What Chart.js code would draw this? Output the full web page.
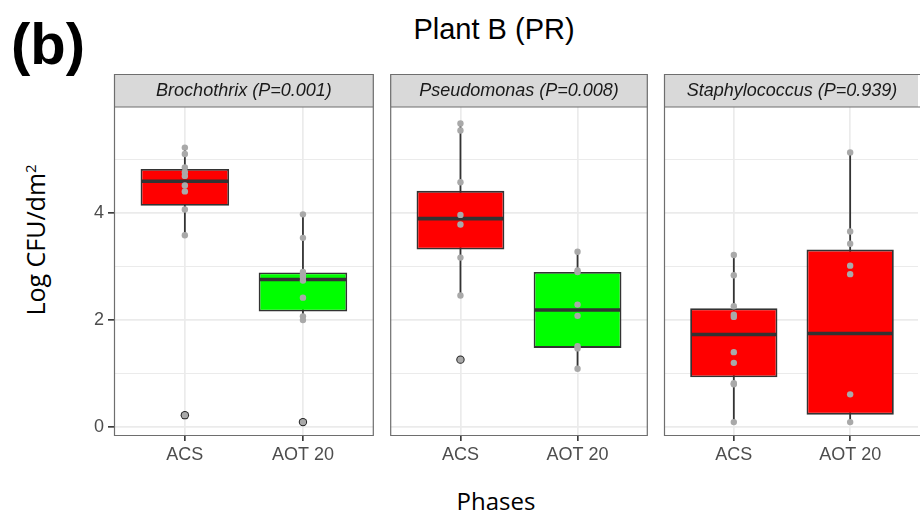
<!DOCTYPE html>
<html>
<head>
<meta charset="utf-8">
<script src="https://cdn.jsdelivr.net/npm/chart.js@4.4.0/dist/chart.umd.min.js"></script>
<style>
  body { margin: 0; width: 922px; height: 512px; background: #fff; position: relative; overflow: hidden;
         font-family: "Liberation Sans", Arial, sans-serif; }
  .panel { position: absolute; top: 70px; height: 400px; }
  #tag { position: absolute; left: 11px; top: 15px; font: bold 58px/58px "Liberation Sans", Arial, sans-serif; color: #000; }
  #title { position: absolute; left: 494px; top: 15px; transform: translateX(-50%); font: 29px/29px "Liberation Sans", Arial, sans-serif; color: #000; white-space: nowrap; }
  #ytitle { position: absolute; left: 35px; top: 240px; transform: translate(-50%, -50%) rotate(-90deg);
            font: 25px/25px "Open Sans", sans-serif; color: #000; white-space: nowrap; }
  #ytitle sup { font-size: 60%; vertical-align: 0.6em; line-height: 0; }
  #xtitle { position: absolute; left: 496px; top: 489px; transform: translateX(-50%); font: 24px/24px "Open Sans", sans-serif; color: #000; white-space: nowrap; }
</style>
</head>
<body>
<div id="tag">(b)</div>
<div id="title">Plant B (PR)</div>
<div id="ytitle">Log CFU/dm<sup>2</sup></div>
<div id="xtitle">Phases</div>
<div class="panel" style="left:60px;width:318px"><canvas id="p0"></canvas></div>
<div class="panel" style="left:386px;width:266px"><canvas id="p1"></canvas></div>
<div class="panel" style="left:660px;width:262px"><canvas id="p2"></canvas></div>
<script>
const phases = ['ACS', 'AOT 20'];
const taxa = ['Brochothrix (P=0.001)', 'Pseudomonas (P=0.008)', 'Staphylococcus (P=0.939)'];
const yTicks = [0, 2, 4];
const yMinor = [1, 3, 5];

// box stats per phase: [lower whisker, Q1, median, Q3, upper whisker]
const brochothrixBox = [[3.59, 4.14, 4.60, 4.83, 5.23], [2.00, 2.16, 2.76, 2.89, 3.98]];
const pseudomonasBox = [[2.46, 3.32, 3.90, 4.42, 5.68], [1.09, 1.48, 2.19, 2.90, 3.28]];
const staphylococcusBox = [[0.09, 0.93, 1.73, 2.22, 3.22], [0.09, 0.23, 1.75, 3.32, 5.14]];

const brochothrixOutliers = [[0.22], [0.09]];
const pseudomonasOutliers = [[1.26], []];
const staphylococcusOutliers = [[], []];

// individual samples
const brochothrixPoints = [
    [5.23, 5.11, 4.86, 4.77, 4.70, 4.52, 4.41, 4.07, 3.59, 0.22],
    [3.98, 3.54, 2.90, 2.85, 2.80, 2.74, 2.42, 2.07, 2.00, 0.09]
];
const pseudomonasPoints = [
    [5.68, 5.55, 4.58, 3.97, 3.79, 3.17, 2.46, 1.26],
    [3.28, 2.93, 2.90, 2.29, 2.08, 1.51, 1.47, 1.09]
];
const staphylococcusPoints = [
    [3.22, 2.84, 2.26, 2.10, 2.06, 1.40, 1.20, 0.82, 0.80, 0.09],
    [5.14, 3.66, 3.43, 3.02, 2.86, 0.61, 0.09]
];

const RED = '#ff0000';
const GREEN = '#00ff00';
const INK = '#333333';

const facetPlugin = {
    id: 'facet',
    beforeDatasetsDraw(chart, args, opts) {
        const { ctx, scales: { x, y } } = chart;
        ctx.save();
        ctx.strokeStyle = INK;
        ctx.lineWidth = 1.8;
        opts.box.forEach((b, i) => {
            const px = x.getPixelForValue(i + 1);
            ctx.beginPath();
            ctx.moveTo(px, y.getPixelForValue(b[0]));
            ctx.lineTo(px, y.getPixelForValue(b[4]));
            ctx.stroke();
        });
        ctx.restore();
    },
    afterDatasetDraw(chart, args, opts) {
        if (args.index !== 0) return;
        const { ctx, scales: { y } } = chart;
        const meta = chart.getDatasetMeta(0);
        ctx.save();
        ctx.strokeStyle = INK;
        ctx.lineWidth = 3.6;
        meta.data.forEach((bar, i) => {
            const py = y.getPixelForValue(opts.box[i][2]);
            ctx.beginPath();
            ctx.moveTo(bar.x - bar.width / 2 + 0.9, py);
            ctx.lineTo(bar.x + bar.width / 2 - 0.9, py);
            ctx.stroke();
        });
        ctx.restore();
    },
    afterDraw(chart, args, opts) {
        const { ctx, chartArea: a } = chart;
        ctx.save();
        ctx.lineWidth = 1.2;
        ctx.strokeStyle = '#6e6e6e';
        // strip
        const top = a.top - 33;
        ctx.fillStyle = '#d9d9d9';
        ctx.fillRect(a.left, top, a.width, 33);
        ctx.beginPath();
        ctx.moveTo(a.left + 0.5, a.bottom);
        ctx.lineTo(a.left + 0.5, top + 0.5);
        ctx.lineTo(a.right - (opts.openRight ? -2 : 0.5), top + 0.5);
        if (!opts.openRight) ctx.lineTo(a.right - 0.5, a.bottom);
        ctx.moveTo(a.left, a.top);
        ctx.lineTo(a.right + (opts.openRight ? 2 : 0), a.top);
        ctx.moveTo(a.left, a.bottom - 0.5);
        ctx.lineTo(a.right + (opts.openRight ? 2 : 0), a.bottom - 0.5);
        ctx.stroke();
        ctx.fillStyle = '#1a1a1a';
        ctx.font = 'italic 18px "Liberation Sans", Arial, sans-serif';
        ctx.textAlign = 'center';
        ctx.textBaseline = 'middle';
        ctx.fillText(opts.label, (a.left + a.right) / 2 + (opts.openRight ? 1 : 0), top + 17);
        ctx.restore();
    }
};

function makePanel(id, label, box, points, outliers, fills, showY, padLeft, padRight, xMax, openRight) {
    const ctx = document.getElementById(id).getContext('2d');
    new Chart(ctx, {
        type: 'bar',
        data: {
            datasets: [{
                type: 'bar',
                data: box.map((b, i) => ({ x: i + 1, y: [b[1], b[3]] })),
                backgroundColor: fills,
                borderColor: INK,
                borderWidth: 1.8,
                borderSkipped: false,
                barPercentage: 0.75,
                categoryPercentage: 1,
                order: 2
            }, {
                type: 'scatter',
                data: outliers.flatMap((vals, i) => vals.map(v => ({ x: i + 1, y: v }))),
                pointRadius: 4.2,
                backgroundColor: '#222',
                borderWidth: 0,
                order: 1
            }, {
                type: 'scatter',
                data: points.flatMap((vals, i) => vals.map(v => ({ x: i + 1, y: v }))),
                pointRadius: 3.2,
                backgroundColor: '#a9a9a9',
                borderWidth: 0,
                order: 0
            }]
        },
        options: {
            responsive: true,
            maintainAspectRatio: false,
            animation: false,
            events: [],
            layout: { padding: { top: 37, left: padLeft, right: padRight, bottom: 0 } },
            plugins: {
                legend: { display: false },
                tooltip: { enabled: false },
                facet: { label: label, box: box, openRight: openRight }
            },
            scales: {
                x: {
                    type: 'linear',
                    offset: false,
                    min: 0.4,
                    max: xMax,
                    afterBuildTicks: s => { s.ticks = phases.map((p, i) => ({ value: i + 1 })); },
                    afterFit: s => { s.height = 34; },
                    border: { display: false },
                    grid: { offset: false, color: '#ebebeb', lineWidth: 1.7, tickColor: INK, tickWidth: 1.6, tickLength: 5 },
                    ticks: {
                        padding: 3,
                        color: '#4d4d4d',
                        font: { family: '"Liberation Sans", Arial, sans-serif', size: 18 },
                        callback: v => phases[v - 1],
                        maxRotation: 0,
                        autoSkip: false
                    }
                },
                y: {
                    type: 'linear',
                    min: -0.17,
                    max: 5.99,
                    afterBuildTicks: s => { s.ticks = yTicks.concat(yMinor).sort().map(v => ({ value: v })); },
                    afterFit: s => { s.width = showY ? 54 : 0; },
                    border: { display: false },
                    grid: {
                        color: '#ebebeb',
                        lineWidth: c => yMinor.includes(c.tick && c.tick.value) ? 1 : 1.7,
                        drawTicks: showY,
                        tickLength: 6,
                        tickWidth: 1.6,
                        tickColor: c => yTicks.includes(c.tick && c.tick.value) ? INK : 'rgba(0,0,0,0)'
                    },
                    ticks: {
                        display: showY,
                        padding: 4,
                        color: '#4d4d4d',
                        font: { family: '"Liberation Sans", Arial, sans-serif', size: 18 },
                        callback: v => yTicks.includes(v) ? String(v) : '',
                        autoSkip: false
                    }
                }
            }
        },
        plugins: [facetPlugin]
    });
}

makePanel('p0', taxa[0], brochothrixBox, brochothrixPoints, brochothrixOutliers, [RED, GREEN], true, 0, 2, 2.6, false);
makePanel('p1', taxa[1], pseudomonasBox, pseudomonasPoints, pseudomonasOutliers, [RED, GREEN], false, 2, 2, 2.6, false);
makePanel('p2', taxa[2], staphylococcusBox, staphylococcusPoints, staphylococcusOutliers, [RED, RED], false, 2, 0, 2.583, true);
</script>
</body>
</html>
